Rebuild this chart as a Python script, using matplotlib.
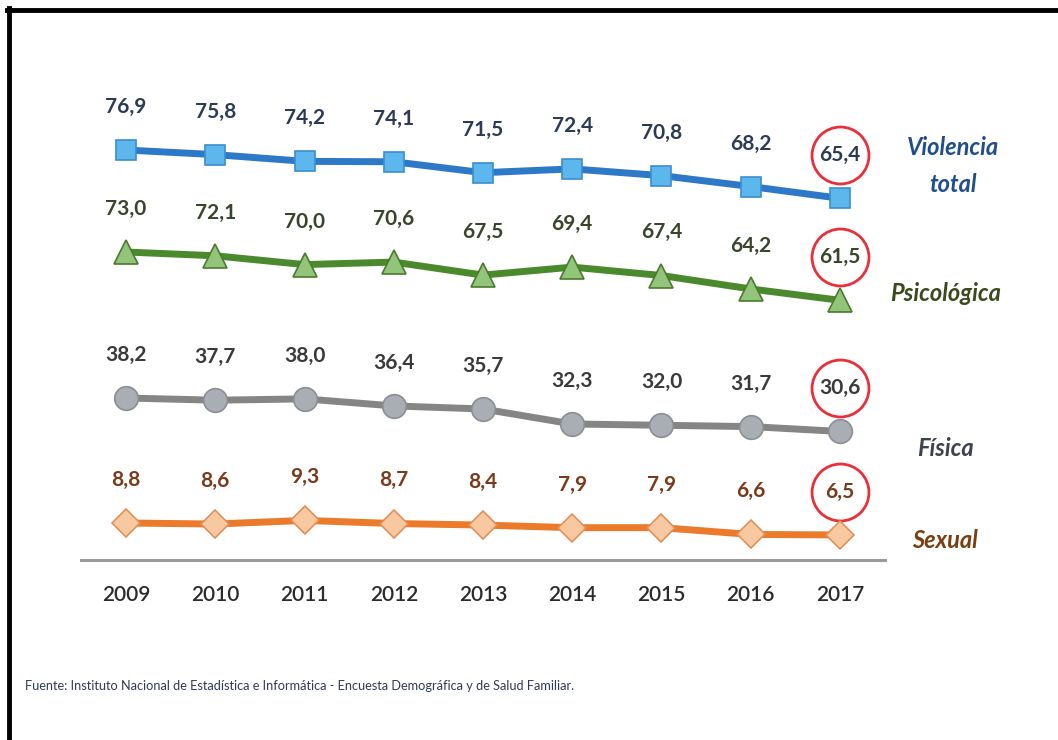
import matplotlib
matplotlib.use("Agg")
import matplotlib.pyplot as plt
from matplotlib.lines import Line2D
from matplotlib.transforms import offset_copy

# Data
years = [2009, 2010, 2011, 2012, 2013, 2014, 2015, 2016, 2017]
violencia_total = [76.9, 75.8, 74.2, 74.1, 71.5, 72.4, 70.8, 68.2, 65.4]
psicologica = [73.0, 72.1, 70.0, 70.6, 67.5, 69.4, 67.4, 64.2, 61.5]
fisica = [38.2, 37.7, 38.0, 36.4, 35.7, 32.3, 32.0, 31.7, 30.6]
sexual = [8.8, 8.6, 9.3, 8.7, 8.4, 7.9, 7.9, 6.6, 6.5]
series_names = ["Violencia\ntotal", "Psicológica", "Física", "Sexual"]
source = "Fuente: Instituto Nacional de Estadística e Informática - Encuesta Demográfica y de Salud Familiar."

W, H = 1058, 740
FONT = ["Lato", "DejaVu Sans"]

fig = plt.figure(figsize=(W / 100, H / 100), dpi=100)
fig.patch.set_facecolor("white")


def rect(x0, y0, x1, y1):
    # pixel box (top-left origin) -> figure fraction rect
    return [x0 / W, 1 - y1 / H, (x1 - x0) / W, (y1 - y0) / H]


TOP, BOT = 100, 560
LEFT, RIGHT = 81.4, 884.6
ax = fig.add_axes(rect(LEFT, TOP, RIGHT, BOT))
ax.set_xlim(2008.5, 2017.5)
ax.set_ylim(0, 1)
for s in ["top", "right", "left"]:
    ax.spines[s].set_visible(False)
ax.spines["bottom"].set_color("#9a9a9a")
ax.spines["bottom"].set_linewidth(2.2)
ax.set_yticks([])
ax.set_xticks(years)
ax.set_xticklabels([str(y) for y in years], family=FONT, fontsize=15,
                   fontweight="semibold", color="#2b2b2b")
ax.tick_params(axis="x", length=0, pad=18)
ax.patch.set_alpha(0)

# style per series: values, anchor pixel of first point, px per unit, colours, name position
styles = [
    (violencia_total, 150, 4.2, "#2e78c8", "s", "#5cb8ec", "#3a8fd0", 15, "#2b3a55", "#1f4e8c", 953, 166),
    (psicologica, 252, 4.2, "#4b8a2c", "^", "#92c47a", "#4a7a2c", 17, "#38452a", "#3a4a1c", 946, 293),
    (fisica, 398, 4.4, "#858585", "o", "#a8aeb4", "#8a8f94", 17, "#3a3a3a", "#3a4250", 945, 448),
    (sexual, 523, 5.2, "#eb7a2a", "D", "#f8c9a0", "#e0905a", 14, "#7a3a1a", "#7a3e10", 945, 540),
]

for i, (vals, y0, k, lc, mk, mfc, mec, ms, tc, nc, nx, ny) in enumerate(styles):
    sub = fig.add_axes(rect(LEFT, TOP, RIGHT, BOT), sharex=ax)
    sub.axis("off")
    v0 = vals[0]
    sub.set_ylim(v0 - (BOT - y0) / k, v0 + (y0 - TOP) / k)
    sub.plot(years, vals, color=lc, lw=5, marker=mk, markersize=ms,
             markerfacecolor=mfc, markeredgecolor=mec, markeredgewidth=1.2,
             solid_capstyle="butt", zorder=3, clip_on=False)
    for x, v in zip(years, vals):
        lbl = f"{v:.1f}".replace(".", ",")
        sub.annotate(lbl, (x, v), xytext=(0, 31), textcoords="offset points",
                     ha="center", va="center", family=FONT, fontsize=15,
                     fontweight="bold", color=tc, clip_on=False)
    # red circle around the latest value
    tr = offset_copy(sub.transData, fig=fig, x=0, y=31, units="points")
    sub.plot([years[-1]], [vals[-1]], marker="o", markersize=41, transform=tr,
             markerfacecolor="none", markeredgecolor="#e8303a", markeredgewidth=2,
             clip_on=False)
    fig.text(nx / W, 1 - ny / H, series_names[i], ha="center", va="center",
             family=FONT, fontweight="bold", style="italic",
             fontsize=17, color=nc, linespacing=1.75)

fig.text(25 / W, 1 - 686 / H, source, ha="left", va="center", family=FONT,
         fontsize=9.2, color="#2e3a59")

# frame lines (top and left)
fig.add_artist(Line2D([7 / W, 1], [1 - 10 / H, 1 - 10 / H], color="black", lw=3.5))
fig.add_artist(Line2D([9 / W, 9 / W], [0, 1 - 8 / H], color="black", lw=3.5))

fig.savefig("out.png", dpi=100, facecolor="white")
